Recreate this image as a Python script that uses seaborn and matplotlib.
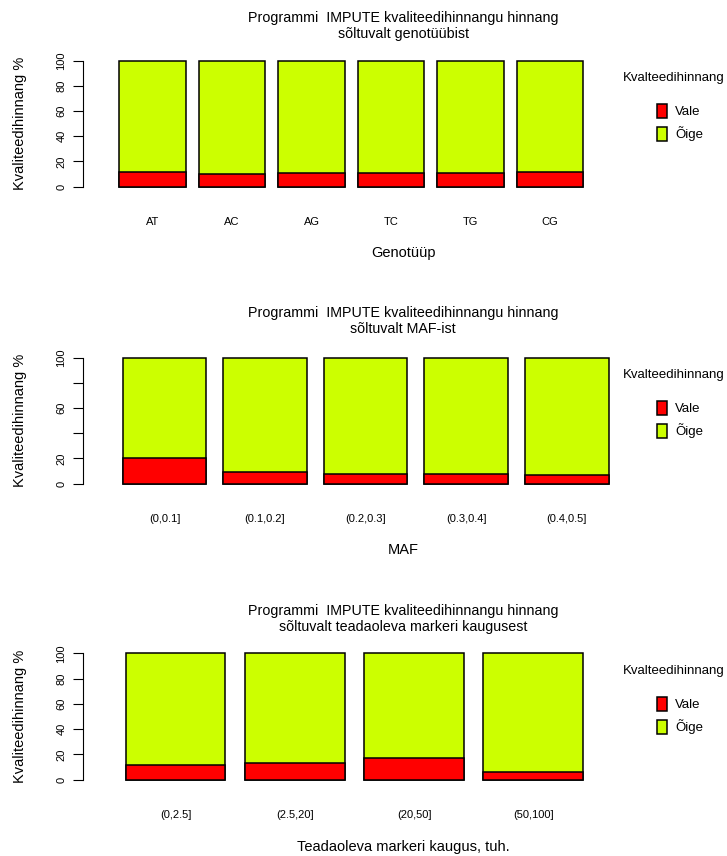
import matplotlib
matplotlib.use("Agg")
import matplotlib.pyplot as plt
import seaborn as sns
from matplotlib.patches import Patch

# data (percent of imputed genotypes)
genotypes = ["AT", "AC", "AG", "TC", "TG", "CG"]
geno_wrong = [11.4, 10.1, 10.6, 10.6, 10.6, 11.4]
geno_right = [88.6, 89.9, 89.4, 89.4, 89.4, 88.6]

maf_bins = ["(0,0.1]", "(0.1,0.2]", "(0.2,0.3]", "(0.3,0.4]", "(0.4,0.5]"]
maf_wrong = [20.4, 9.0, 7.9, 7.9, 6.9]
maf_right = [79.6, 91.0, 92.1, 92.1, 93.1]

dist_bins = ["(0,2.5]", "(2.5,20]", "(20,50]", "(50,100]"]
dist_wrong = [11.9, 12.9, 17.4, 6.1]
dist_right = [88.1, 87.1, 82.6, 93.9]

y_ticks = [0, 20, 40, 60, 80, 100]
y_labels_full = ["0", "20", "40", "60", "80", "100"]
y_labels_maf = ["0", "20", "", "60", "", "100"]

legend_title = "Kvalteedihinnang"
legend_labels = ["Vale", "Õige"]
title_line1 = "Programmi  IMPUTE kvaliteedihinnangu hinnang"
subtitles = ["sõltuvalt genotüübist", "sõltuvalt MAF-ist",
             "sõltuvalt teadaoleva markeri kaugusest"]
x_titles = ["Genotüüp", "MAF", "Teadaoleva markeri kaugus, tuh."]
y_title = "Kvaliteedihinnang %"

RED = "#FF0000"
GREEN = "#CCFF00"

sns.set_style("white")
plt.rcParams["font.family"] = ["Liberation Sans", "DejaVu Sans"]
plt.rcParams["text.color"] = "black"
plt.rcParams["axes.labelcolor"] = "black"
plt.rcParams["xtick.color"] = "black"
plt.rcParams["ytick.color"] = "black"

W, H = 727, 856
fig = plt.figure(figsize=(W / 100, H / 100), dpi=100)


def px_axes(left, right, bottom, top):
    return fig.add_axes([left / W, 1 - bottom / H, (right - left) / W, (bottom - top) / H])


# (axes top px, axes bottom px, xlim, title y px, xlabel y px, legend y px)
panels = [
    (genotypes, geno_wrong, geno_right, y_labels_full, 58.2, 189.2, (-0.874, 5.88), 18, 253, 78),
    (maf_bins, maf_wrong, maf_right, y_labels_maf, 355.2, 486.2, (-0.81, 4.53), 313, 550, 375),
    (dist_bins, dist_wrong, dist_right, y_labels_full, 650.8, 782.2, (-0.78, 3.73), 611, 847, 671),
]

for i, (cats, wrong, right, ylabs, top, bottom, xlim, ty, xy, ly) in enumerate(panels):
    ax = px_axes(83, 620, bottom, top)
    total = [a + b for a, b in zip(wrong, right)]
    sns.barplot(x=cats, y=total, color=GREEN, saturation=1, width=0.833,
                edgecolor="black", linewidth=1.1, ax=ax)
    sns.barplot(x=cats, y=wrong, color=RED, saturation=1, width=0.833,
                edgecolor="black", linewidth=1.1, ax=ax)
    ax.set_xlim(*xlim)
    ax.set_ylim(-2, 102)
    for s in ["top", "right", "bottom"]:
        ax.spines[s].set_visible(False)
    ax.spines["left"].set_bounds(0, 100)
    ax.spines["left"].set_color("black")
    ax.spines["left"].set_linewidth(0.8)
    ax.set_yticks(y_ticks)
    ax.set_yticklabels(ylabs, rotation=90, va="center", fontsize=8)
    ax.tick_params(axis="y", length=7, width=0.8, pad=5, left=True)
    ax.tick_params(axis="x", length=0, pad=20, labelsize=8)
    ax.set_xlabel("")
    ax.set_ylabel(y_title, fontsize=10.5, labelpad=21)

    fig.text(403 / W, 1 - ty / H, title_line1, ha="center", va="center", fontsize=10.3)
    fig.text(403 / W, 1 - (ty + 16) / H, subtitles[i], ha="center", va="center", fontsize=10.3)
    fig.text(403 / W, 1 - xy / H, x_titles[i], ha="center", va="center", fontsize=10.5)

    fig.text(623 / W, 1 - ly / H, legend_title, ha="left", va="center", fontsize=9.5)
    handles = [Patch(facecolor=RED, edgecolor="black", linewidth=1.1),
               Patch(facecolor=GREEN, edgecolor="black", linewidth=1.1)]
    fig.legend(handles, legend_labels, loc="upper left",
               bbox_to_anchor=(645 / W, 1 - (ly + 14) / H), frameon=False,
               fontsize=9.5, handlelength=0.8, handleheight=1.3,
               handletextpad=0.6, labelspacing=0.6)

fig.savefig("out.png", dpi=100)
